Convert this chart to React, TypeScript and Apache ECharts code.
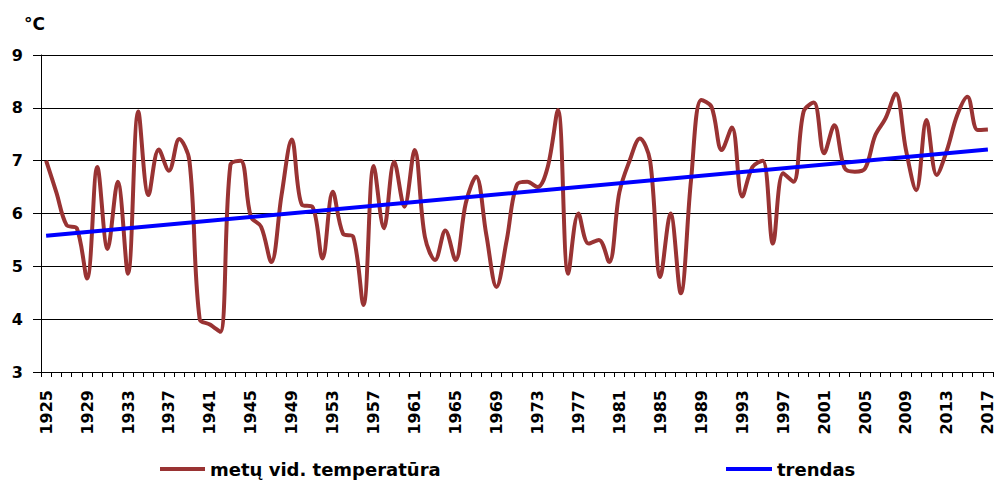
import React, { useEffect, useRef } from "react";
import * as echarts from "echarts";

const years: string[] = [];
for (let y = 1925; y <= 2017; y++) years.push(String(y));

const temperature = [
  7.0, 6.4, 5.78, 5.72, 4.77, 6.88, 5.33, 6.6, 4.86, 7.93,
  6.35, 7.21, 6.81, 7.41, 7.0, 4.0, 3.9, 3.76, 6.92, 7.0,
  5.94, 5.75, 5.08, 6.35, 7.4, 6.16, 6.13, 5.15, 6.41, 5.62,
  5.56, 4.27, 6.9, 5.72, 6.98, 6.13, 7.2, 5.56, 5.12, 5.68,
  5.12, 6.2, 6.7, 5.6, 4.61, 5.5, 6.55, 6.6, 6.5, 6.88,
  7.96, 4.86, 6.0, 5.43, 5.5, 5.08, 6.4, 7.0, 7.42, 7.0,
  4.8, 6.0, 4.49, 6.63, 8.15, 8.02, 7.2, 7.63, 6.32, 6.88,
  7.0, 5.43, 6.76, 6.6, 7.93, 8.1, 7.14, 7.67, 6.86, 6.79,
  6.85, 7.48, 7.8, 8.27, 7.2, 6.44, 7.77, 6.73, 7.2, 7.86,
  8.21, 7.58, 7.59,
];

const trendStart = 5.58;
const trendEnd = 7.21;

const seriesNames = ["metų vid. temperatūra", "trendas"];
const unitLabel = "°C";

export default function App() {
  const ref = useRef<HTMLDivElement>(null);
  useEffect(() => {
    document.body.style.margin = "0";
    if (!ref.current) return;
    const chart = echarts.init(ref.current, undefined, { renderer: "svg" });
    const trend = years.map((_, i) =>
      i === 0 ? trendStart : i === years.length - 1 ? trendEnd : null
    );
    const font = "DejaVu Sans";
    const legendText = {
      fontSize: 18,
      lineHeight: 18,
      fontWeight: "bold",
      fontFamily: font,
      color: "#000",
    };
    chart.setOption({
      animation: false,
      backgroundColor: "#ffffff",
      grid: { left: 41, right: 4, top: 55, bottom: 109 },
      graphic: [
        {
          type: "text",
          left: 24,
          top: 15,
          style: {
            text: unitLabel,
            fontSize: 17,
            fontWeight: "bold",
            fontFamily: font,
            fill: "#000",
          },
        },
      ],
      legend: [
        {
          data: [seriesNames[0]],
          left: 160,
          top: 460,
          padding: 0,
          icon: "rect",
          itemWidth: 45,
          itemHeight: 4,
          itemGap: 0,
          textStyle: legendText,
        },
        {
          data: [seriesNames[1]],
          left: 726,
          top: 460,
          padding: 0,
          icon: "rect",
          itemWidth: 46,
          itemHeight: 4,
          itemGap: 0,
          textStyle: legendText,
        },
      ],
      xAxis: {
        type: "category",
        data: years,
        boundaryGap: true,
        axisLine: { show: true, lineStyle: { color: "#000", width: 1 } },
        axisTick: { show: true, interval: 0, length: 5, lineStyle: { color: "#000" } },
        axisLabel: {
          interval: 3,
          rotate: 90,
          margin: 18,
          fontSize: 16,
          fontWeight: "bold",
          fontFamily: font,
          color: "#000",
        },
        splitLine: { show: false },
      },
      yAxis: {
        type: "value",
        min: 3,
        max: 9,
        interval: 1,
        axisLine: { show: true, lineStyle: { color: "#000", width: 1 } },
        axisTick: { show: true, length: 8, lineStyle: { color: "#000" } },
        axisLabel: {
          margin: 18,
          fontSize: 16,
          fontWeight: "bold",
          fontFamily: font,
          color: "#000",
        },
        splitLine: { show: true, lineStyle: { color: "#000", width: 1 } },
      },
      series: [
        {
          name: seriesNames[0],
          type: "line",
          data: temperature,
          smooth: 0.35,
          showSymbol: false,
          symbol: "none",
          itemStyle: { color: "#993333" },
          lineStyle: { color: "#993333", width: 4 },
          z: 2,
        },
        {
          name: seriesNames[1],
          type: "line",
          data: trend,
          connectNulls: true,
          showSymbol: false,
          symbol: "none",
          itemStyle: { color: "#0000ff" },
          lineStyle: { color: "#0000ff", width: 4 },
          z: 3,
        },
      ],
    });
    return () => chart.dispose();
  }, []);
  return <div ref={ref} style={{ width: 997, height: 481 }} />;
}
